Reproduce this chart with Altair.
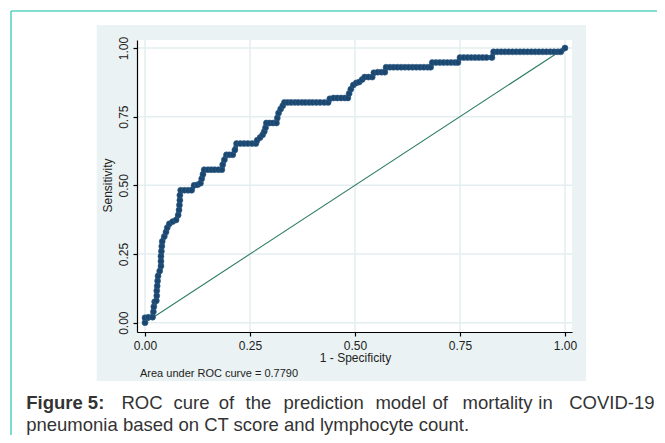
import altair as alt
import pandas as pd

# ROC curve points (1 - specificity, sensitivity)
fpr = [0.000, 0.000, 0.008, 0.018, 0.020, 0.021, 0.023, 0.027, 0.028, 0.028,
       0.029, 0.030, 0.031, 0.035, 0.038, 0.038, 0.038, 0.039, 0.040, 0.041,
       0.046, 0.050, 0.053, 0.058, 0.066, 0.074, 0.079, 0.081, 0.082, 0.083,
       0.083, 0.085, 0.094, 0.103, 0.111, 0.117, 0.125, 0.132, 0.135, 0.138,
       0.141, 0.150, 0.158, 0.166, 0.175, 0.183, 0.185, 0.189, 0.194, 0.201,
       0.209, 0.214, 0.218, 0.227, 0.236, 0.245, 0.255, 0.264, 0.267, 0.274,
       0.280, 0.284, 0.287, 0.289, 0.297, 0.305, 0.313, 0.315, 0.318, 0.323,
       0.328, 0.332, 0.340, 0.348, 0.357, 0.365, 0.374, 0.382, 0.391, 0.399,
       0.408, 0.417, 0.427, 0.436, 0.440, 0.449, 0.458, 0.467, 0.476, 0.483,
       0.486, 0.490, 0.496, 0.503, 0.510, 0.517, 0.523, 0.532, 0.541, 0.545,
       0.554, 0.563, 0.571, 0.574, 0.583, 0.592, 0.601, 0.610, 0.619, 0.628,
       0.637, 0.646, 0.655, 0.664, 0.673, 0.680, 0.684, 0.693, 0.702, 0.711,
       0.720, 0.729, 0.738, 0.745, 0.750, 0.759, 0.768, 0.777, 0.786, 0.795,
       0.804, 0.813, 0.826, 0.830, 0.839, 0.848, 0.857, 0.866, 0.875, 0.884,
       0.893, 0.902, 0.911, 0.920, 0.929, 0.938, 0.947, 0.956, 0.965, 0.974,
       0.983, 0.990, 1.000]
tpr = [0.000, 0.018, 0.020, 0.020, 0.040, 0.058, 0.076, 0.080, 0.098, 0.116,
       0.134, 0.152, 0.170, 0.188, 0.206, 0.224, 0.242, 0.260, 0.278, 0.296,
       0.314, 0.330, 0.346, 0.360, 0.368, 0.374, 0.392, 0.410, 0.428, 0.446,
       0.464, 0.482, 0.482, 0.482, 0.482, 0.500, 0.502, 0.508, 0.524, 0.540,
       0.557, 0.557, 0.557, 0.557, 0.557, 0.557, 0.575, 0.593, 0.611, 0.611,
       0.611, 0.629, 0.652, 0.652, 0.652, 0.652, 0.652, 0.652, 0.664, 0.674,
       0.684, 0.696, 0.710, 0.727, 0.727, 0.727, 0.727, 0.745, 0.763, 0.778,
       0.790, 0.802, 0.802, 0.802, 0.802, 0.802, 0.802, 0.802, 0.802, 0.802,
       0.802, 0.802, 0.802, 0.802, 0.815, 0.818, 0.818, 0.818, 0.818, 0.818,
       0.834, 0.850, 0.865, 0.873, 0.876, 0.885, 0.894, 0.894, 0.894, 0.910,
       0.912, 0.912, 0.912, 0.930, 0.930, 0.930, 0.930, 0.930, 0.930, 0.930,
       0.930, 0.930, 0.930, 0.930, 0.930, 0.930, 0.947, 0.947, 0.947, 0.947,
       0.947, 0.947, 0.947, 0.947, 0.965, 0.965, 0.965, 0.965, 0.965, 0.965,
       0.965, 0.965, 0.965, 0.986, 0.986, 0.986, 0.986, 0.986, 0.986, 0.986,
       0.986, 0.986, 0.986, 0.986, 0.986, 0.986, 0.986, 0.986, 0.986, 0.986,
       0.986, 0.986, 1.000]

diag_x = [0.0, 1.0]
diag_y = [0.0, 1.0]
tick_values = [0.0, 0.25, 0.5, 0.75, 1.0]

x_title = "1 - Specificity"
y_title = "Sensitivity"
auc_note = "Area under ROC curve = 0.7790"
caption_bold = "Figure 5:"
caption_words = ["ROC", "cure", "of", "the", "prediction", "model", "of",
                 "mortality", "in", "COVID-19"]
caption_line2 = "pneumonia based on CT score and lymphocyte count."

# ---- layout (pixels relative to plot area) ----
W, H = 435, 292
word_x = [-15.5, 36.5, 81.8, 108.5, 146.5, 238.4, 295.5, 325.6, 401.3, 432.2]
FONT = "Liberation Sans, Arial, sans-serif"
NAVY = "#1a476f"
CAP_SIZE = 18.5
CAP_Y1, CAP_Y2 = 363, 385

xs = alt.Scale(domain=[-0.01905, 1.01667], nice=False, zero=False)
ys = alt.Scale(domain=[-0.0339, 1.0291], nice=False, zero=False)

xaxis = alt.Axis(values=tick_values, format=".2f", grid=False, zindex=1,
                 tickSize=4, tickColor="black", tickWidth=1.2,
                 domainColor="black", domainWidth=1.2,
                 labelFont=FONT, labelFontSize=12, labelColor="#222222",
                 labelBaseline="alphabetic", labelPadding=13, labelFlush=False,
                 title=x_title, titleFont=FONT, titleFontSize=12,
                 titleFontWeight="normal", titleColor="#222222",
                 titleX=218, titleY=29, titleBaseline="alphabetic",
                 titleAlign="center")
yaxis = alt.Axis(values=tick_values, format=".2f", grid=False, zindex=1,
                 tickSize=4, tickColor="black", tickWidth=1.2,
                 domainColor="black", domainWidth=1.2,
                 labelFont=FONT, labelFontSize=12, labelColor="#222222",
                 labelAngle=270, labelAlign="center",
                 labelBaseline="alphabetic", labelPadding=6, labelFlush=False,
                 title=y_title, titleFont=FONT, titleFontSize=12,
                 titleFontWeight="normal", titleColor="#222222",
                 titleAngle=270, titleX=-26, titleY=145,
                 titleBaseline="alphabetic", titleAlign="center")

X = alt.X("x:Q", scale=xs, axis=xaxis)
Y = alt.Y("y:Q", scale=ys, axis=yaxis)

one = pd.DataFrame({"k": [0]})

border_v = alt.Chart(one).mark_rule(color="#5cd3c3", strokeWidth=1.6).encode(
    x=alt.value(-126), y=alt.value(-29), y2=alt.value(420))
border_h = alt.Chart(one).mark_rule(color="#5cd3c3", strokeWidth=1.6).encode(
    x=alt.value(-126), x2=alt.value(540), y=alt.value(-29))
panel = alt.Chart(one).mark_rect(color="#eaf2f3").encode(
    x=alt.value(-40.3), x2=alt.value(449), y=alt.value(-15), y2=alt.value(341))
white = alt.Chart(one).mark_rect(color="white").encode(
    x=alt.value(0), x2=alt.value(W), y=alt.value(0), y2=alt.value(H))

grid_df = pd.DataFrame({"x": tick_values, "y": tick_values})
grid_v = alt.Chart(grid_df).mark_rule(color="#e4eef0", strokeWidth=1.5).encode(x=X)
grid_h = alt.Chart(grid_df).mark_rule(color="#e4eef0", strokeWidth=1.5).encode(y=Y)

diag = alt.Chart(pd.DataFrame({"x": diag_x, "y": diag_y})).mark_line(
    color="#2e7d64", strokeWidth=1.1).encode(x=X, y=Y)

roc_df = pd.DataFrame({"x": fpr, "y": tpr, "o": list(range(len(fpr)))})
roc_line = alt.Chart(roc_df).mark_line(color=NAVY, strokeWidth=4.5).encode(
    x=X, y=Y, order="o:Q")
roc_pts = alt.Chart(roc_df).mark_circle(color=NAVY, size=36, opacity=1,
                                        stroke="#35608a", strokeWidth=0.6).encode(x=X, y=Y)

note = alt.Chart(one).mark_text(align="left", baseline="middle", font=FONT,
                                fontSize=11, color="#222222").encode(
    x=alt.value(3), y=alt.value(334), text=alt.value(auc_note))

cap_layers = [alt.Chart(one).mark_text(align="left", baseline="middle", font=FONT,
                                       fontSize=CAP_SIZE, fontWeight="bold", color="#333333").encode(
    x=alt.value(-110.8), y=alt.value(CAP_Y1), text=alt.value(caption_bold))]
for w, px in zip(caption_words, word_x):
    cap_layers.append(alt.Chart(one).mark_text(align="left", baseline="middle", font=FONT,
                                               fontSize=CAP_SIZE, color="#333333").encode(
        x=alt.value(px), y=alt.value(CAP_Y1), text=alt.value(w)))
cap_layers.append(alt.Chart(one).mark_text(align="left", baseline="middle", font=FONT,
                                           fontSize=CAP_SIZE, color="#333333").encode(
    x=alt.value(-110.8), y=alt.value(CAP_Y2), text=alt.value(caption_line2)))

chart = alt.layer(border_v, border_h, panel, white, grid_v, grid_h, diag,
                  roc_line, roc_pts, note, *cap_layers).properties(
    width=W, height=H, autosize="none",
    padding={"left": 129, "top": 32, "right": 85, "bottom": 103},
    background="white",
).configure_view(strokeWidth=0)

chart.save("out.html", embed_options={"renderer": "svg", "actions": False})
